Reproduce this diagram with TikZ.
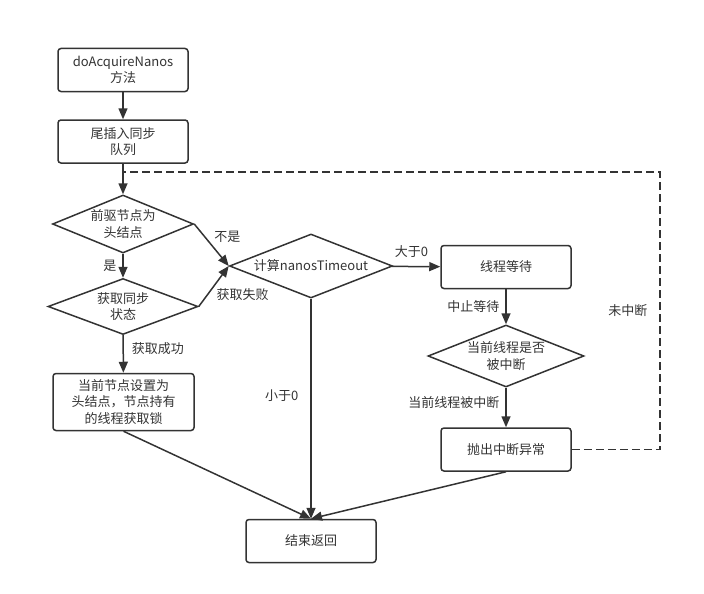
\documentclass[tikz,border=0pt]{standalone}
\usepackage{fontspec}
\setmainfont{Noto Sans CJK SC}
\usetikzlibrary{shapes.geometric,arrows.meta,positioning}
\definecolor{ink}{HTML}{333333}
\tikzstyle{process} = [draw=ink, line width=1.5pt, rectangle, rounded corners=3pt, minimum width=130pt, minimum height=43pt, align=center, text=ink, inner sep=2pt]
\tikzstyle{decision} = [draw=ink, line width=1.5pt, diamond, aspect=2.5, minimum width=141pt, minimum height=58pt, align=center, text=ink, inner sep=0pt]
\tikzstyle{arrow} = [draw=ink, line width=1.5pt, -{Triangle[length=11pt,width=9pt]}]
\tikzstyle{cond} = [text=ink, inner sep=2pt]
\tikzstyle{loopback} = [draw=ink, line width=1.5pt, dash pattern=on 8pt off 4pt]

\begin{document}
\begin{tikzpicture}[x=1pt, y=-1pt, font=\fontsize{13}{16.5}\selectfont]
\useasboundingbox (0,0) rectangle (704,594);
% main line
\node[process] (start) at (123,70) {doAcquireNanos\\方法};
\node[process] (enq) at (123,141.5) {尾插入同步\\队列};
\node[decision] (head) at (123,224) {前驱节点为\\头结点};
\node[decision, minimum width=150pt, minimum height=56pt] (tryacq) at (123,306.5) {获取同步\\状态};
\node[process, minimum width=141pt, minimum height=57pt] (setlock) at (123.5,402) {当前节点设置为\\头结点，节点持有\\的线程获取锁};
\node[decision, minimum width=163pt, minimum height=64pt] (calc) at (311,266) {计算nanosTimeout};
\node[process] (wait) at (506,267) {线程等待};
\node[decision, minimum width=156pt, minimum height=62pt] (intr) at (506,356) {当前线程是否\\被中断};
\node[process] (throw) at (506,449.5) {抛出中断异常};
\node[process] (done) at (311,541) {结束返回};
\coordinate (merge) at (123,172);
\coordinate (loop) at (660,172);

% connectors
\draw[arrow] (start) -- (enq);
\draw[arrow] (enq) -- (head);
\draw[arrow] (head) -- node[cond, left=4pt] {是} (tryacq);
\draw[arrow] (head.east) -- node[cond, anchor=south west] {不是} (calc.west);
\draw[arrow] (tryacq.east) -- node[cond, anchor=north west] {获取失败} (calc.west);
\draw[arrow] (tryacq) -- node[cond, right=6pt, pos=0.35] {获取成功} (setlock);
\draw[arrow] (calc) -- node[cond, left=10pt, pos=0.44] {小于0} (done);
\draw[arrow] (calc) -- node[cond, above=6pt, pos=0.4] {大于0} (wait);
\draw[arrow] (wait) -- node[cond, left=4pt] {中止等待} (intr);
\draw[arrow] (intr) -- node[cond, left=4pt, pos=0.37] {当前线程被中断} (throw);
\draw[arrow] (setlock.south) -- (done.north);
\draw[arrow] (throw.south) -- (done.north);
\draw[loopback] (throw.east) -| node[cond, pos=0.75, left=10pt] {未中断} (loop) -- (merge);
\end{tikzpicture}
\end{document}
